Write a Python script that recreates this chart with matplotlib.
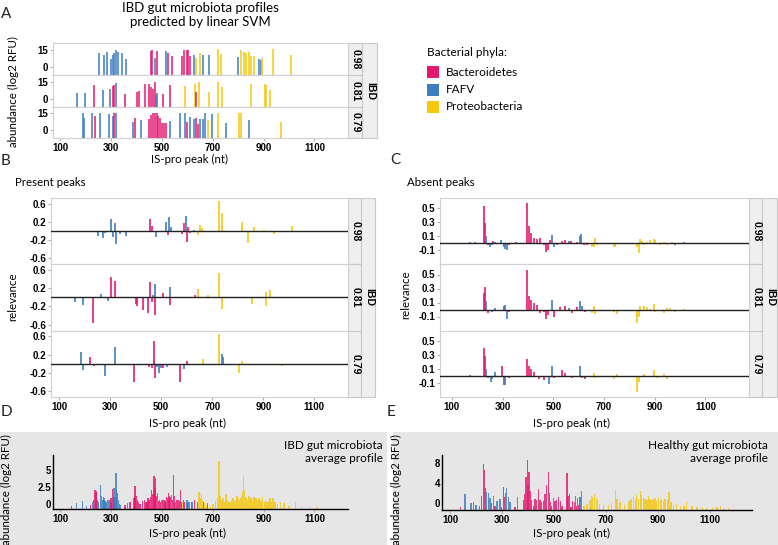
import matplotlib
matplotlib.use('Agg')
import matplotlib.pyplot as plt
from matplotlib.patches import Rectangle

# ---------------- DATA ----------------
phyla = ['Bacteroidetes', 'FAFV', 'Proteobacteria']
row_labels = ['0.98', '0.81', '0.79']
x_ticks = [100, 300, 500, 700, 900, 1100]

# Panel A: abundance (log2 RFU) of peaks per sample
A_098_pos = [254,274,286,299,306,313,320,326,342,361,457,463,473,479,518,526,538,581,588,597,603,610,625,636,649,660,684,721,734,799,812,822,832,842,852,861,882,888,895,937,1008]
A_098_val = [12.2,10.8,12.8,6.7,10.8,12.2,15,12.8,12.2,6.7,14.4,15,8,14.4,13.6,12.2,9.4,9.4,15,15,15,9.4,10.8,8,12.2,10.8,10.8,15.5,11.7,8.9,15,12.8,12.2,12.8,9.4,9.4,7.2,6.1,8,15.5,10.8]
A_098_phy = list('FFFFFFFFFFBBFBFBBBBBBBFPPFFPPFPPPPPPFFPPP')
A_081_pos = [165,198,233,267,296,307,313,320,356,403,411,433,450,456,466,474,476,482,505,534,590,631,636,645,684,721,736,852,904,911,926]
A_081_val = [5.3,4.7,12.5,8,8.9,10.8,11.7,13.6,4.2,6.1,6.7,13,13,10.3,8.9,14.4,3.3,4.7,4.2,11.7,10.8,13,6.1,14.4,6.1,14.4,10.3,13,13,11.7,7.5]
A_081_phy = list('FFBFFBBFBBBBBBBBFFBBPPBPPPPPPPP')
A_079_pos = [189,195,224,237,257,293,307,313,320,385,394,420,450,459,466,473,479,486,492,499,508,516,534,571,590,599,610,625,633,644,652,660,668,682,697,721,754,803,812,842,969]
A_079_val = [15.5,10.9,15,12.8,15,14.5,12.5,15,15,7.4,10.4,9,10,13.6,15,15,15,12.5,10.9,6.3,6,6.3,8.2,15,15,7.4,11.5,10,10.9,5.5,9.5,10,15.5,9,14,15.5,6.3,15.5,15.5,9,7]
A_079_phy = list('FFFBFFFBFFBFBBBBBBBBBBFFFBFFBBFFFPFPFPPFP')

# Panel B: relevance of present peaks
B_098_pos = [252,270,281,305,310,318,323,340,360,457,462,479,519,525,532,539,582,589,598,601,605,611,627,644,651,661,726,737,816,842,865,902,941,1014]
B_098_val = [-0.11,-0.16,-0.04,0.26,-0.13,0.18,-0.29,-0.06,-0.11,0.26,0.11,-0.13,0.2,-0.08,0.3,0.09,-0.06,0.18,0.34,-0.25,0.08,-0.04,0.03,-0.08,0.13,0.07,0.67,0.39,0.2,-0.26,0.08,0.03,-0.06,0.11]
B_098_phy = list('FFFFFFFFFBBFFBFFBBFBBBFPPPPPPPPPPP')
B_081_pos = [162,195,231,265,292,305,318,403,406,430,449,455,462,469,474,477,506,533,536,631,644,684,726,737,856,909,911,926]
B_081_val = [-0.11,-0.17,-0.56,0.08,-0.08,0.45,0.36,-0.15,-0.19,-0.28,-0.34,0.34,-0.11,0.05,0.28,-0.38,0.09,-0.17,0.23,0.05,0.19,0.05,0.54,-0.26,-0.15,-0.19,0.11,0.15]
B_081_phy = list('FFBFFBBBBBBBBFFBBBFBPPPPPPPP')
B_079_pos = [185,195,222,235,281,318,387,393,453,463,470,473,477,482,490,499,508,523,572,589,602,664,726,737,743,805,816,975]
B_079_val = [0.25,-0.13,0.14,-0.05,-0.26,0.36,-0.02,-0.41,-0.07,-0.09,0.06,0.49,-0.32,-0.07,-0.2,-0.09,-0.09,-0.07,-0.41,-0.11,0.06,0.1,0.66,0.21,0.14,-0.2,0.06,-0.05]
B_079_phy = list('FFBBFFBBBBFBBFFFBFBFBPPFFPPP')

# Panel C: relevance of absent peaks
C_098_pos = [172,192,225,232,236,241,249,258,264,271,293,304,311,317,324,354,396,403,412,422,436,449,462,472,479,488,495,501,514,534,547,561,571,593,607,611,620,633,653,659,666,672,738,745,830,837,843,850,857,870,883,896,903,922,936,949,968,982,1014]
C_098_val = [0.01,0.01,0.53,0.29,0.1,-0.02,-0.05,-0.03,0.03,0.02,0.05,-0.05,-0.08,-0.1,-0.03,0.01,0.58,0.24,0.14,0.08,0.06,0.08,-0.02,-0.13,-0.1,0.05,0.12,-0.06,-0.03,0.03,0.05,0.03,0.03,0.01,0.11,0.13,-0.02,-0.03,-0.05,-0.06,0.08,-0.03,-0.05,-0.05,-0.06,-0.14,0.06,0.03,-0.02,0.01,0.05,0.06,0.04,-0.02,0.01,-0.02,0.01,-0.02,0.01]
C_098_phy = list('FFBBFBFFBFFBFFBBBBBBBBBBBBFFBBBFBBFFBBPPPPPPPPPPPPPPPPPPP')
C_081_pos = [225,229,232,236,241,251,258,271,304,311,317,324,396,403,412,422,436,449,462,472,479,495,501,514,528,547,561,574,593,607,613,626,653,659,666,738,751,830,837,843,857,870,883,896,903,936,949,962,982,1014]
C_081_val = [0.24,0.1,0.32,0.12,-0.05,-0.02,-0.03,0.02,0.05,0.07,-0.14,-0.03,0.56,0.19,0.14,0.1,0.07,-0.05,-0.04,-0.14,-0.08,0.13,-0.1,-0.02,0.03,0.05,0.02,-0.05,0.03,0.12,0.05,-0.03,-0.05,0.05,-0.06,-0.03,-0.06,-0.19,-0.1,0.05,0.05,0.03,0.01,0.08,-0.03,-0.05,0.02,0.02,-0.03,0.01]
C_081_phy = list('BBBFBFFFBFFBBBBBBBBBBFBBBBFBBFFBPPPPPPPPPPPPPPPPPP')
C_079_pos = [172,225,232,236,241,254,258,271,297,304,311,324,354,396,403,412,422,442,462,482,495,501,534,547,574,607,613,626,659,666,738,751,830,837,857,896,909,936,949,988]
C_079_val = [0.01,0.4,0.28,0.1,-0.03,-0.08,-0.04,0.06,0.14,-0.13,-0.13,-0.03,-0.02,0.25,0.14,0.1,0.06,-0.04,-0.05,-0.11,0.14,-0.03,0.09,0.04,-0.03,0.14,-0.03,-0.04,0.04,-0.03,-0.04,0.03,-0.23,-0.08,0.03,0.09,-0.03,0.03,-0.04,-0.02]
C_079_phy = list('FBBFBFFFBBFBBBBBBBBFFBBBBFFBPPPPPPPPPPPP')

# Panel D: IBD average profile
D_B_pos = [146,220,232,237,241,244,248,300,307,311,355,375,390,394,398,403,408,414,425,433,438,446,450,455,460,465,469,473,476,480,486,490,495,503,508,513,518,522,525,528,531,535,541,546,550,558,564,569,573,578,585,590,600,616,629]
D_B_val = [-0.3,-0.2,0.5,2.1,1.6,1.85,0.6,0.8,2.2,1.0,-0.2,0.2,0.8,2.6,1.2,0.6,0.3,-0.1,0.4,0.6,0.3,0.8,0.6,1.0,2.1,1.4,4.1,2.4,3.85,1.2,0.4,0.6,0.3,0.5,0.6,0.4,1.0,0.8,1.6,0.9,1.2,1.0,0.6,4.35,1.2,0.6,0.6,0.4,2.1,0.3,0.5,0.2,0.1,0.3,0.5]
D_F_pos = [163,189,205,228,250,259,263,266,270,273,277,280,285,290,293,300,312,316,320,323,326,330,333,338,364,442,482,499,512,538,552,599,607,620,640,665,680]
D_F_val = [0.1,0.35,-0.3,0.2,0.3,2.85,1.2,0.6,1.0,0.8,0.4,0.3,0.6,0.5,0.6,0.2,2.35,1.0,4.6,2.0,1.6,0.6,0.0,-0.2,0.1,0.3,1.6,0.6,0.3,1.3,0.3,0.6,0.3,0.2,0.2,0.3,0.1]
D_P_pos = [581,646,650,656,660,668,675,690,701,710,718,725,730,735,741,746,752,757,762,768,774,780,786,790,796,800,804,808,812,816,820,824,828,833,838,843,848,852,857,862,866,872,877,882,887,892,897,903,908,913,920,925,930,937,942,948,955,967,980,1000,1025,1050,1080,1110]
D_P_val = [0.2,1.7,0.8,1.5,0.5,0.3,-0.2,-0.3,0.0,0.4,0.8,6.4,1.2,0.5,0.8,0.3,1.4,0.6,0.3,0.2,0.5,0.9,0.4,0.6,1.2,0.8,0.6,0.9,1.2,1.8,4.2,2.0,1.0,0.8,0.6,1.2,0.8,1.0,0.6,1.0,0.8,0.9,0.5,0.8,0.6,0.4,1.0,0.2,0.6,0.2,0.4,0.8,0.3,0.8,0.2,0.3,0.0,0.2,0.1,-0.3,0.3,-0.3,-0.4,-0.5]

# Panel E: healthy average profile
E_B_pos = [140,213,222,228,232,235,260,273,299,305,309,350,382,387,392,397,400,403,408,414,420,427,433,440,446,452,459,465,472,478,482,485,491,504,510,517,524,530,550,554,558,565,572,578,585,595]
E_B_val = [-0.8,-0.5,1.5,7.9,6.6,3.0,0.0,-0.5,-0.8,3.3,1.2,-0.8,0.6,1.8,5.3,8.6,3.5,6.3,2.5,0.6,-0.5,0.8,0.6,2.9,0.6,0.2,0.4,1.8,3.7,6.3,2.0,0.3,-0.5,0.4,0.6,1.2,0.5,-0.5,6.1,1.5,1.8,-0.7,0.4,0.2,-0.5,-0.3]
E_F_pos = [158,181,190,200,241,247,254,267,280,292,312,318,324,331,360,497,581,590,597,600,606]
E_F_val = [1.9,0.0,0.2,-0.3,2.3,2.1,1.0,1.5,0.5,0.9,2.1,3.0,1.2,0.2,1.3,1.0,1.5,1.0,0.8,1.2,2.4]
E_P_pos = [615,626,638,645,649,655,662,667,675,690,710,722,735,742,754,770,785,792,798,805,812,818,824,831,837,844,850,857,863,869,876,882,888,895,901,908,914,921,927,935,942,950,959,970,985,1000,1010,1030,1049,1070,1087,1110,1126,1140,1151,1170]
E_P_val = [-0.5,-0.2,0.6,1.5,1.2,1.9,1.0,0.6,-0.2,-0.4,-0.3,0.0,2.6,0.8,0.3,-0.3,0.2,0.7,0.9,1.3,0.6,1.6,0.9,2.5,1.6,1.0,0.9,0.7,1.4,0.9,0.6,0.9,1.0,0.5,1.3,0.7,0.9,0.5,0.9,0.6,2.3,0.3,-0.4,-0.2,-0.6,-0.5,0.2,-0.6,-0.7,-0.8,-0.9,-0.8,-0.7,-0.5,-0.9,-1.0]

# ---------------- STYLE ----------------
COL = {'B': '#e5186f', 'F': '#3b7dbf', 'P': '#f5c70f'}
TXT = 'Lato'
NUM = 'Liberation Sans'
plt.rcParams['font.family'] = [NUM, 'DejaVu Sans']

W, H = 778, 545
fig = plt.figure(figsize=(W / 100, H / 100), dpi=100)
ov = fig.add_axes([0, 0, 1, 1])
ov.set_xlim(0, W); ov.set_ylim(H, 0); ov.axis('off')


def px_axes(x0, y0, x1, y1):
    return fig.add_axes([x0 / W, 1 - y1 / H, (x1 - x0) / W, (y1 - y0) / H])


def style_ticks(ax, show_x):
    ax.set_xticks(x_ticks)
    ax.tick_params(axis='both', length=2, color='#b0b0b0', labelsize=7, pad=1.5)
    if show_x:
        for t in ax.get_xticklabels():
            t.set_fontweight('bold')
    else:
        ax.set_xticklabels([])
        ax.tick_params(axis='x', length=0)
    for t in ax.get_yticklabels():
        t.set_fontweight('bold')


def facet(x0, x1, y_edges, xlim, ylim, yticks, ylabs, rows, kind, strip_w):
    for i, (pos, val, phy) in enumerate(rows):
        ax = px_axes(x0, y_edges[i], x1, y_edges[i + 1])
        cols = [COL[p] for p in phy]
        if kind == 'abund':
            ax.vlines(pos, ylim[0], val, colors=cols, lw=1.3, alpha=0.85)
        else:
            ax.vlines(pos, 0, val, colors=cols, lw=1.4, alpha=0.85)
            ax.axhline(0, color='#222222', lw=1.0, zorder=3)
        ax.set_xlim(*xlim); ax.set_ylim(*ylim)
        ax.set_yticks(yticks); ax.set_yticklabels(ylabs)
        style_ticks(ax, i == len(rows) - 1)
        for s in ax.spines.values():
            s.set_color('#d0d0d0'); s.set_linewidth(0.8)
        ov.add_patch(Rectangle((x1, y_edges[i]), strip_w[0], y_edges[i + 1] - y_edges[i],
                               facecolor='#efefef', edgecolor='#c8c8c8', lw=0.8))
        ov.text(x1 + strip_w[0] / 2 + 1, (y_edges[i] + y_edges[i + 1]) / 2, row_labels[i],
                rotation=-90, ha='center', va='center', fontsize=7.5, fontweight='bold')
    xs = x1 + strip_w[0]
    ov.add_patch(Rectangle((xs, y_edges[0]), strip_w[1], y_edges[-1] - y_edges[0],
                           facecolor='#efefef', edgecolor='#c8c8c8', lw=0.8))
    ov.text(xs + strip_w[1] / 2 + 1, (y_edges[0] + y_edges[-1]) / 2, 'IBD',
            rotation=-90, ha='center', va='center', fontsize=7.5, fontweight='bold')


# ---------- Panel A ----------
facet(53, 348, [43, 75, 106.5, 138], (72, 1232), (-7, 21), [15, 0], ['15', '0'],
      [(A_098_pos, A_098_val, A_098_phy), (A_081_pos, A_081_val, A_081_phy),
       (A_079_pos, A_079_val, A_079_phy)], 'abund', (14, 15))
ov.text(200, 15, 'IBD gut microbiota profiles\npredicted by linear SVM', ha='center', va='center',
        fontsize=9.5, family=TXT, linespacing=1.2)
ov.text(13, 92, 'abundance (log2 RFU)', rotation=90, ha='center', va='center', fontsize=8.3, family=TXT)
ov.text(190, 159, 'IS-pro peak (nt)', ha='center', va='center', fontsize=8.3, family=TXT)

# Legend
ov.text(427, 52, 'Bacterial phyla:', ha='left', va='center', fontsize=8.5, family=TXT)
for i, (lab, key) in enumerate(zip(phyla, ['B', 'F', 'P'])):
    yc = 72 + i * 17.5
    ov.add_patch(Rectangle((427, yc - 6), 12, 12, facecolor=COL[key], edgecolor='none'))
    ov.text(446, yc, lab, ha='left', va='center', fontsize=8.5, family=TXT)

# ---------- Panel B ----------
facet(51, 348, [198, 264, 330.5, 397], (68, 1232), (-0.73, 0.73), [0.6, 0.2, -0.2, -0.6],
      ['0.6', '0.2', '-0.2', '-0.6'],
      [(B_098_pos, B_098_val, B_098_phy), (B_081_pos, B_081_val, B_081_phy),
       (B_079_pos, B_079_val, B_079_phy)], 'rel', (13, 14))
ov.text(15, 182, 'Present peaks', ha='left', va='center', fontsize=8.3, family=TXT)
ov.text(13, 297, 'relevance', rotation=90, ha='center', va='center', fontsize=8.3, family=TXT)
ov.text(188, 423, 'IS-pro peak (nt)', ha='center', va='center', fontsize=8.3, family=TXT)

# ---------- Panel C ----------
facet(440, 749, [198, 264, 330.5, 397], (53, 1272), (-0.3, 0.65), [0.5, 0.3, 0.1, -0.1],
      ['0.5', '0.3', '0.1', '-0.1'],
      [(C_098_pos, C_098_val, C_098_phy), (C_081_pos, C_081_val, C_081_phy),
       (C_079_pos, C_079_val, C_079_phy)], 'rel', (13, 15))
ov.text(407, 182, 'Absent peaks', ha='left', va='center', fontsize=8.3, family=TXT)
ov.text(406, 295, 'relevance', rotation=90, ha='center', va='center', fontsize=8.3, family=TXT)
ov.text(572, 423, 'IS-pro peak (nt)', ha='center', va='center', fontsize=8.3, family=TXT)


# ---------- Panels D / E ----------
def profile(x0, x1, y0, y1, xlim, ylim, yticks, ylabs, series, bg, title, ylab_x, xlab_x, title_x):
    rect = Rectangle((bg[0], bg[1]), bg[2] - bg[0], bg[3] - bg[1], facecolor='#e6e6e6', edgecolor='none')
    ov.add_patch(rect)
    ax = px_axes(x0, y0, x1, y1)
    ax.set_facecolor('none')
    for pos, val, key in series:
        ax.bar(pos, [v - ylim[0] for v in val], bottom=ylim[0], width=5.0,
               color=COL[key], alpha=0.82, lw=0)
    ax.set_xlim(*xlim); ax.set_ylim(*ylim)
    ax.set_yticks(yticks); ax.set_yticklabels(ylabs)
    style_ticks(ax, True)
    ax.tick_params(axis='y', length=0)
    for s in ['top', 'right']:
        ax.spines[s].set_visible(False)
    for s in ['left', 'bottom']:
        ax.spines[s].set_color('black'); ax.spines[s].set_linewidth(1.0)
    t = ov.text(ylab_x, 490, 'abundance (log2 RFU)', rotation=90, ha='center', va='center',
                fontsize=8.3, family=TXT)
    t.set_clip_path(rect)
    ov.text(xlab_x, 533, 'IS-pro peak (nt)', ha='center', va='center', fontsize=8.3, family=TXT)
    ov.text(title_x, 452, title, ha='right', va='center', fontsize=8.5, family=TXT, linespacing=1.3)


profile(53, 348, 455, 509, (72, 1232), (-0.8, 7.3), [5, 2.5, 0], ['5', '2.5', '0'],
        [(D_F_pos, D_F_val, 'F'), (D_B_pos, D_B_val, 'B'), (D_P_pos, D_P_val, 'P')],
        (0, 432, 387, 545), 'IBD gut microbiota\naverage profile', 6, 188, 383)
profile(442, 752, 455, 510, (69, 1261), (-1.4, 9.6), [8, 4, 0], ['8', '4', '0'],
        [(E_F_pos, E_F_val, 'F'), (E_B_pos, E_B_val, 'B'), (E_P_pos, E_P_val, 'P')],
        (393, 432, 778, 545), 'Healthy gut microbiota\naverage profile', 396, 572, 768)

# Panel letters
for lab, (x, y) in {'A': (6, 14), 'B': (6, 161), 'C': (395, 160), 'D': (6, 412), 'E': (391, 412)}.items():
    ov.text(x, y, lab, ha='center', va='center', fontsize=11, family=TXT, color='#222222')

fig.savefig('out.png', dpi=100)
